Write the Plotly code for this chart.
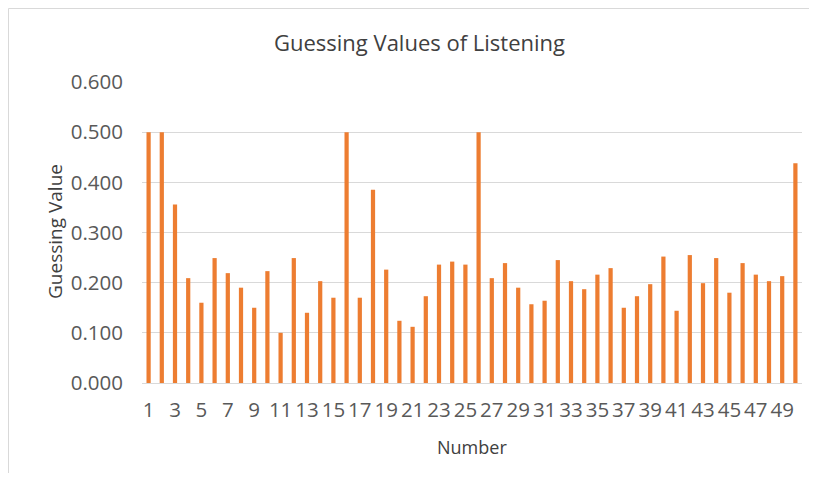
import plotly.graph_objects as go

numbers = list(range(1, 51))
guessing_values = [
    0.500, 0.500, 0.356, 0.209, 0.160, 0.249, 0.219, 0.190, 0.150, 0.223,
    0.100, 0.249, 0.140, 0.203, 0.170, 0.500, 0.170, 0.385, 0.226, 0.124,
    0.112, 0.173, 0.236, 0.242, 0.236, 0.500, 0.209, 0.239, 0.190, 0.157,
    0.164, 0.245, 0.203, 0.187, 0.216, 0.229, 0.150, 0.173, 0.197, 0.252,
    0.144, 0.255, 0.199, 0.249, 0.180, 0.239, 0.216, 0.203, 0.213, 0.438,
]
y_ticks = [0.0, 0.1, 0.2, 0.3, 0.4, 0.5, 0.6]
y_tick_labels = ["0.000", "0.100", "0.200", "0.300", "0.400", "0.500", "0.600"]
x_ticks = list(range(1, 51, 2))

title_text = "Guessing Values of Listening"
x_title = "Number"
y_title = "Guessing Value"

# the page body adds an 8px margin on every side; work in screen coordinates
OFF = 8
W, H = 817 - 2 * OFF, 481 - 2 * OFF
L, T = 142 - OFF, 82 - OFF
R = (817 - OFF) - 802
B = (481 - OFF) - 383
pw = W - L - R
ph = H - T - B

def px_x(x):
    return (x - OFF - L) / pw

def px_y(y):
    return (H - B - (y - OFF)) / ph

font_family = "Open Sans, Lato, sans-serif"
text_color = "#595959"

fig = go.Figure()
fig.add_trace(go.Bar(
    x=numbers, y=guessing_values, width=0.32,
    marker=dict(color="#ED7D31", line=dict(width=0)),
))

fig.update_layout(
    width=W, height=H,
    margin=dict(l=L, r=R, t=T, b=B),
    paper_bgcolor="white", plot_bgcolor="white",
    showlegend=False,
    font=dict(family=font_family, color=text_color, size=20),
    xaxis=dict(
        range=[0.5, 50.5], tickmode="array", tickvals=x_ticks,
        ticktext=[str(v) for v in x_ticks], tickangle=0,
        showgrid=False, zeroline=False, showline=True,
        linecolor="#D9D9D9", linewidth=1,
        ticks="", ticklabelstandoff=8,
        tickfont=dict(size=20.5, color=text_color),
    ),
    yaxis=dict(
        range=[0, 0.6], tickmode="array", tickvals=y_ticks, ticktext=y_tick_labels,
        showgrid=True, gridcolor="#D9D9D9", gridwidth=1,
        zeroline=False, showline=False, ticks="", ticklabelstandoff=18,
        tickfont=dict(size=20.5, color=text_color),
    ),
    annotations=[
        dict(text=title_text, xref="paper", yref="paper",
             x=px_x(419.5), y=px_y(42), xanchor="center", yanchor="middle",
             showarrow=False, font=dict(size=22, color="#404040", family=font_family)),
        dict(text=x_title, xref="paper", yref="paper",
             x=px_x(472), y=px_y(447), xanchor="center", yanchor="middle",
             showarrow=False, font=dict(size=18, color="#404040", family=font_family)),
        dict(text=y_title, xref="paper", yref="paper", textangle=-90,
             x=px_x(55), y=px_y(232), xanchor="center", yanchor="middle",
             showarrow=False, font=dict(size=19, color="#404040", family=font_family)),
    ],
    shapes=[
        dict(type="rect", xref="paper", yref="paper",
             x0=px_x(8.5), x1=px_x(840), y0=px_y(500), y1=px_y(8.5),
             line=dict(color="#D9D9D9", width=1), fillcolor="rgba(0,0,0,0)", layer="below"),
    ],
)

fig.write_html("out.html")
